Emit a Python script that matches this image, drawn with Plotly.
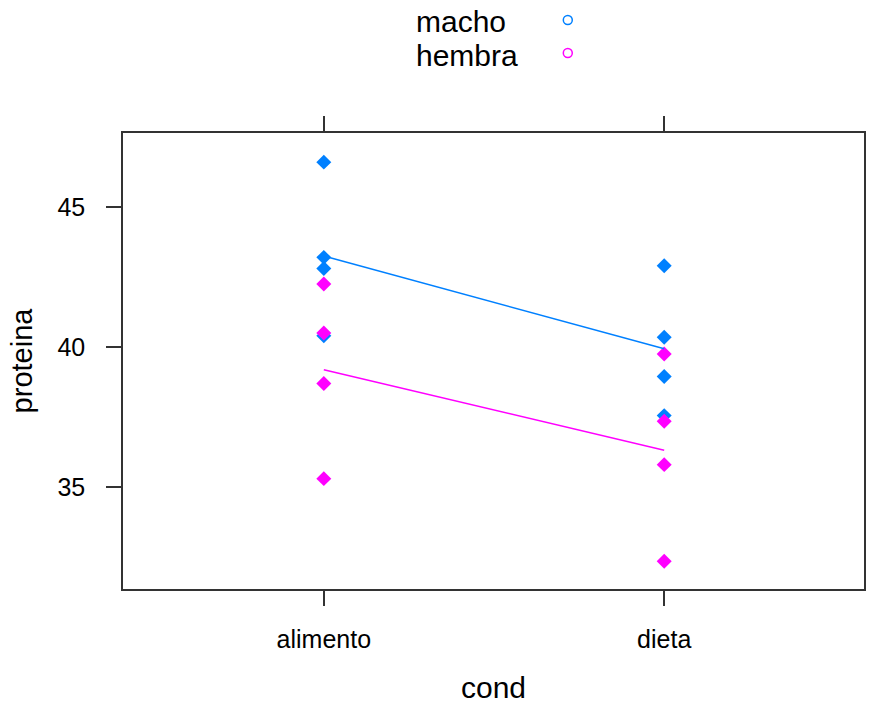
import numpy as np
import plotly.graph_objects as go

categories = ["alimento", "dieta"]
groups = ["macho", "hembra"]
colors = {"macho": "#0080ff", "hembra": "#ff00ff"}

macho_alimento = [46.6, 43.2, 42.8, 40.4]
macho_dieta = [42.9, 40.35, 38.95, 37.55]
hembra_alimento = [42.25, 40.5, 38.7, 35.3]
hembra_dieta = [39.75, 37.35, 35.8, 32.35]

data = {
    "macho": [macho_alimento, macho_dieta],
    "hembra": [hembra_alimento, hembra_dieta],
}

W, H = 869, 704
L, R, T, B = 123, 3, 133, 115
pw, ph = W - L - R, H - T - B

FONT = "Liberation Sans, Arial"

fig = go.Figure()
for g in groups:
    xs, ys = [], []
    for i, vals in enumerate(data[g]):
        xs += [i] * len(vals)
        ys += vals
    fig.add_trace(go.Scatter(x=xs, y=ys, mode="markers",
                             marker=dict(symbol="diamond", size=11.5, color=colors[g]),
                             showlegend=False, cliponaxis=False))
for g in groups:
    means = [float(np.mean(v)) for v in data[g]]
    fig.add_trace(go.Scatter(x=list(range(len(categories))), y=means, mode="lines",
                             line=dict(color=colors[g], width=1.5), showlegend=False))

# legend (text left, open circle right)
def px2paper(px, py):
    return (px - L) / pw, (H - B - py) / ph

legend_rows = [("macho", 22), ("hembra", 55)]
for name, py in legend_rows:
    ax, ay = px2paper(415, py)
    fig.add_annotation(x=ax, y=ay, xref="paper", yref="paper", text=name,
                       showarrow=False, xanchor="left", yanchor="middle",
                       font=dict(family=FONT, size=30, color="#000"))
    cx, cy = px2paper(569, py - 2)
    r = 4.5
    fig.add_shape(type="circle", xref="paper", yref="paper",
                  x0=cx - r / pw, x1=cx + r / pw, y0=cy - r / ph, y1=cy + r / ph,
                  line=dict(color=colors[name], width=1.5), fillcolor="rgba(0,0,0,0)")

axis_font = dict(family=FONT, size=25, color="#000")
fig.update_layout(
    width=W, height=H,
    margin=dict(l=L, r=R, t=T, b=B),
    paper_bgcolor="white", plot_bgcolor="white",
    font=dict(family=FONT, color="#000"),
    xaxis=dict(range=[-0.59, 1.587], tickvals=list(range(len(categories))),
               ticktext=categories, showgrid=False, zeroline=False,
               showline=True, linecolor="#333", linewidth=1.5, mirror="ticks",
               ticks="outside", ticklen=15, tickwidth=1.5, tickcolor="#333",
               tickfont=axis_font, ticklabelstandoff=12,
               title=dict(text="cond", font=dict(family=FONT, size=30),
                          standoff=25)),
    yaxis=dict(range=[31.36, 47.64], tickvals=[35, 40, 45], showgrid=False, zeroline=False,
               showline=True, linecolor="#333", linewidth=1.5, mirror=True,
               ticks="outside", ticklen=15, tickwidth=1.5, tickcolor="#333",
               tickfont=axis_font, ticklabelstandoff=16,
               title=dict(text="proteina", font=dict(family=FONT, size=29),
                          standoff=16)),
)

fig.write_html("out.html")
